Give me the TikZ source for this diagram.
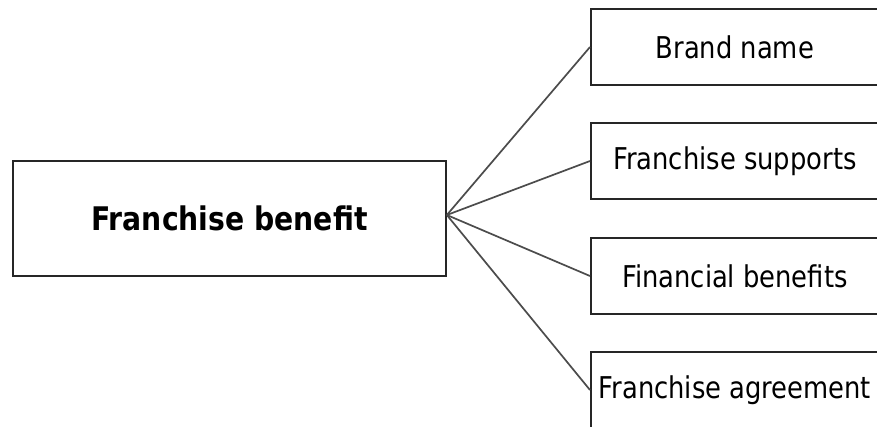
\documentclass[tikz,border=0pt]{standalone}
\usepackage{fontspec}
\setmainfont{DejaVu Sans}[FakeStretch=0.86]
\newfontfamily\headfont{DejaVu Sans}[FakeStretch=0.87]
\begin{document}
\begin{tikzpicture}[x=1pt,y=-1pt,
  box/.style={draw=black!85,line width=1.7pt,fill=white,inner sep=0pt,
              minimum width=300pt,minimum height=76pt,anchor=west,
              font=\fontsize{30}{30}\selectfont,
              execute at begin node=\hspace*{-12pt}},
  mainbox/.style={draw=black!85,line width=1.7pt,fill=white,inner sep=0pt,
              minimum width=433pt,minimum height=115pt,
              font=\headfont\bfseries\fontsize{32.5}{32.5}\selectfont},
  link/.style={draw=black!70,line width=1.7pt}]
  \useasboundingbox (0,0) rectangle (877,426);
  \clip (0,0) rectangle (877,426);
  \fill[white] (0,0) rectangle (877,426);

  % root node
  \node[mainbox] (fb) at (229.5,218.5) {Franchise benefit};

  % branch nodes
  \node[box] (b1) at (590,47)  {Brand name};
  \node[box] (b2) at (590,161) {Franchise supports};
  \node[box] (b3) at (590,276) {Financial benefits};
  \node[box] (b4) at (590,390) {Franchise agreement};

  % connectors from the root to each branch
  \coordinate (hub) at ([yshift=3.5pt]fb.east);
  \foreach \b in {b1,b2,b3,b4}
    \draw[link] (hub) -- (\b.west);
\end{tikzpicture}
\end{document}
